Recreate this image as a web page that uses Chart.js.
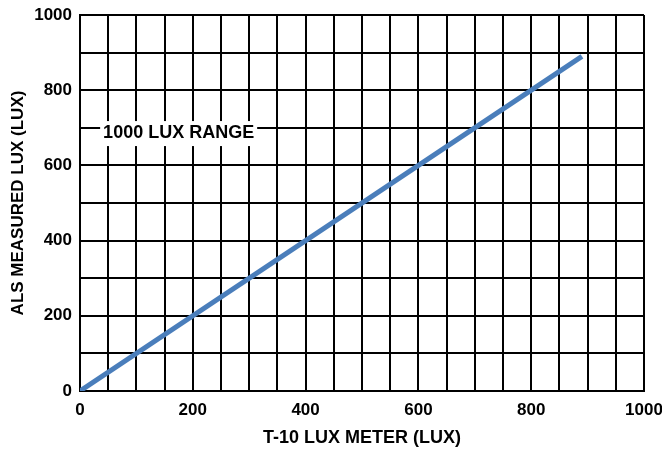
<!DOCTYPE html>
<html>
<head>
<meta charset="utf-8">
<script src="https://cdn.jsdelivr.net/npm/chart.js@4"></script>
<style>
  html, body { margin: 0; padding: 0; background: #fff; }
  #wrap { width: 662px; height: 449px; }
</style>
</head>
<body>
<div id="wrap"><canvas id="chart" width="662" height="449"></canvas></div>
<script>
// T-10 lux meter reading vs ALS measured lux
const meterLux = [0, 890];
const alsLux = [0, 890];

const xTicksShown = [0, 200, 400, 600, 800, 1000];
const yTicksShown = [0, 200, 400, 600, 800, 1000];

const rangeLabel = "1000 LUX RANGE";
const rangeLabelAt = { x: 41, y: 686 };

const fontFam = "'Liberation Sans', Arial, sans-serif";

// text label inside the plot, on a white patch that hides the grid
const rangeText = {
  id: "rangeText",
  afterDatasetsDraw(chart) {
    const { ctx, scales } = chart;
    const px = scales.x.getPixelForValue(rangeLabelAt.x);
    const py = scales.y.getPixelForValue(rangeLabelAt.y);
    ctx.save();
    ctx.font = "bold 18px " + fontFam;
    const w = ctx.measureText(rangeLabel).width;
    ctx.fillStyle = "#fff";
    ctx.fillRect(px - 3, py - 12, w + 6, 25);
    ctx.fillStyle = "#000";
    ctx.textAlign = "left";
    ctx.textBaseline = "middle";
    ctx.fillText(rangeLabel, px, py);
    ctx.restore();
  },
};

const ctx = document.getElementById("chart").getContext("2d");
new Chart(ctx, {
  type: "line",
  data: {
    datasets: [
      {
        data: meterLux.map((v, i) => ({ x: v, y: alsLux[i] })),
        borderColor: "#4a7ebb",
        borderWidth: 5,
        pointRadius: 0,
        fill: false,
        tension: 0,
      },
    ],
  },
  options: {
    responsive: false,
    animation: false,
    layout: { padding: { left: 0, right: 18, top: 15, bottom: 0 } },
    plugins: {
      legend: { display: false },
      tooltip: { enabled: false },
    },
    scales: {
      x: {
        type: "linear",
        min: 0,
        max: 1000,
        afterFit(scale) {
          scale.height = 58;
          scale.paddingLeft = 0;
          scale.paddingRight = 0;
        },
        grid: { color: "#000", lineWidth: 2, drawTicks: false },
        border: { color: "#000", width: 2 },
        ticks: {
          stepSize: 50,
          autoSkip: false,
          maxRotation: 0,
          padding: 9,
          color: "#000",
          font: { family: fontFam, size: 17, weight: "bold" },
          callback: (v) => (xTicksShown.includes(v) ? v : ""),
        },
        title: {
          display: true,
          text: "T-10 LUX METER (LUX)",
          color: "#000",
          font: { family: fontFam, size: 18, weight: "bold" },
          padding: { top: 0, bottom: 0 },
        },
      },
      y: {
        type: "linear",
        min: 0,
        max: 1000,
        afterFit(scale) {
          scale.width = 80;
          scale.paddingTop = 0;
          scale.paddingBottom = 0;
        },
        grid: { color: "#000", lineWidth: 2, drawTicks: false },
        border: { color: "#000", width: 2 },
        ticks: {
          stepSize: 100,
          autoSkip: false,
          padding: 8,
          color: "#000",
          font: { family: fontFam, size: 17, weight: "bold" },
          callback: (v) => (yTicksShown.includes(v) ? v : ""),
        },
        title: {
          display: true,
          text: "ALS MEASURED LUX (LUX)",
          color: "#000",
          font: { family: fontFam, size: 17, weight: "bold" },
          padding: { top: 8, bottom: 0 },
        },
      },
    },
  },
  plugins: [rangeText],
});
</script>
</body>
</html>
